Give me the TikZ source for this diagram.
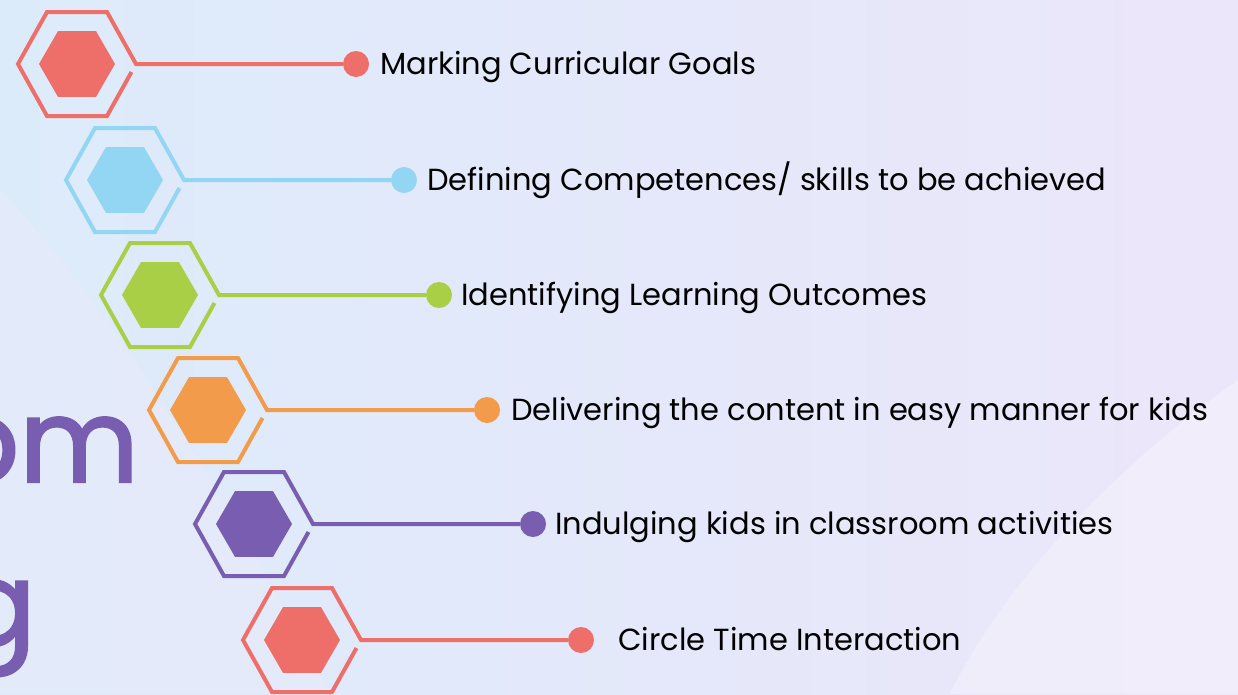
\documentclass[tikz,border=0pt]{standalone}
\usepackage{fontspec}
\setmainfont{Poppins}
\newfontfamily\titlefont[FakeBold=2]{Poppins}
\usetikzlibrary{shapes.geometric,positioning,calc}

\definecolor{hexred}{HTML}{EE6E6A}
\definecolor{hexblue}{HTML}{93D6F4}
\definecolor{hexgreen}{HTML}{A8CF45}
\definecolor{hexorange}{HTML}{F29B4B}
\definecolor{hexpurple}{HTML}{785DB0}
\definecolor{bgblue}{HTML}{DCEBFA}
\definecolor{bglilac}{HTML}{ECE6FA}
\definecolor{bgpale}{HTML}{F5F2FC}
\definecolor{bgleft}{HTML}{E8EAFA}

\tikzset{
  inhex/.style={regular polygon,regular polygon sides=6,minimum size=76pt,inner sep=0pt,fill=#1},
  ring/.style={draw=#1,line width=4pt,line join=miter},
  tipdot/.style={circle,fill=#1,minimum size=26pt,inner sep=0pt},
  itemtext/.style={anchor=base west,inner sep=0pt,font=\fontsize{30.5}{34}\selectfont},
  bigtext/.style={anchor=base east,inner sep=0pt,text=hexpurple,font=\titlefont\fontsize{116}{120}\selectfont},
}

\begin{document}
\begin{tikzpicture}[x=1pt,y=-1pt]
\useasboundingbox (0,0) rectangle (1238,694);
\clip (0,0) rectangle (1238,694);
% background
\shade[left color=bgblue,right color=bglilac] (0,0) rectangle (1238,694);
\fill[bgleft,opacity=0.6] (0,190) .. controls (110,300) and (250,540) .. (330,694) -- (0,694) -- cycle;
\fill[bgpale,opacity=0.6] (1238,380) .. controls (1110,470) and (1000,590) .. (950,694) -- (1238,694) -- cycle;

% cut-off title letters
\node[bigtext] (om) at (139,482) {om};
\node[bigtext] (g) at (36,645) {g};

% hexagons, connectors and labels
\foreach \n/\cx/\cy/\col/\gap/\txt in {
  1/77/64/hexred/24/{Marking Curricular Goals},
  2/125/180/hexblue/23/{Defining Competences/ skills to be achieved},
  3/160/295/hexgreen/22/{Identifying Learning Outcomes},
  4/208/410/hexorange/24/{Delivering the content in easy manner for kids},
  5/254/524/hexpurple/22/{Indulging kids in classroom activities},
  6/302/640/hexred/37/{Circle Time Interaction}}
{
  \node[inhex=\col] (h\n) at (\cx,\cy) {};
  \node[tipdot=\col] (d\n) at (\cx+279,\cy) {};
  \draw[ring=\col] ($(h\n.center)+(54.5,8)$) -- ++(-24.5,44) -- ++(-60,0) -- ++(-29,-52)
    -- ++(29,-52) -- ++(60,0) -- ++(29,52) -- (d\n);
  \node[itemtext] (t\n) at (\cx+279+\gap,\cy+10) {\txt};
}
\end{tikzpicture}
\end{document}
